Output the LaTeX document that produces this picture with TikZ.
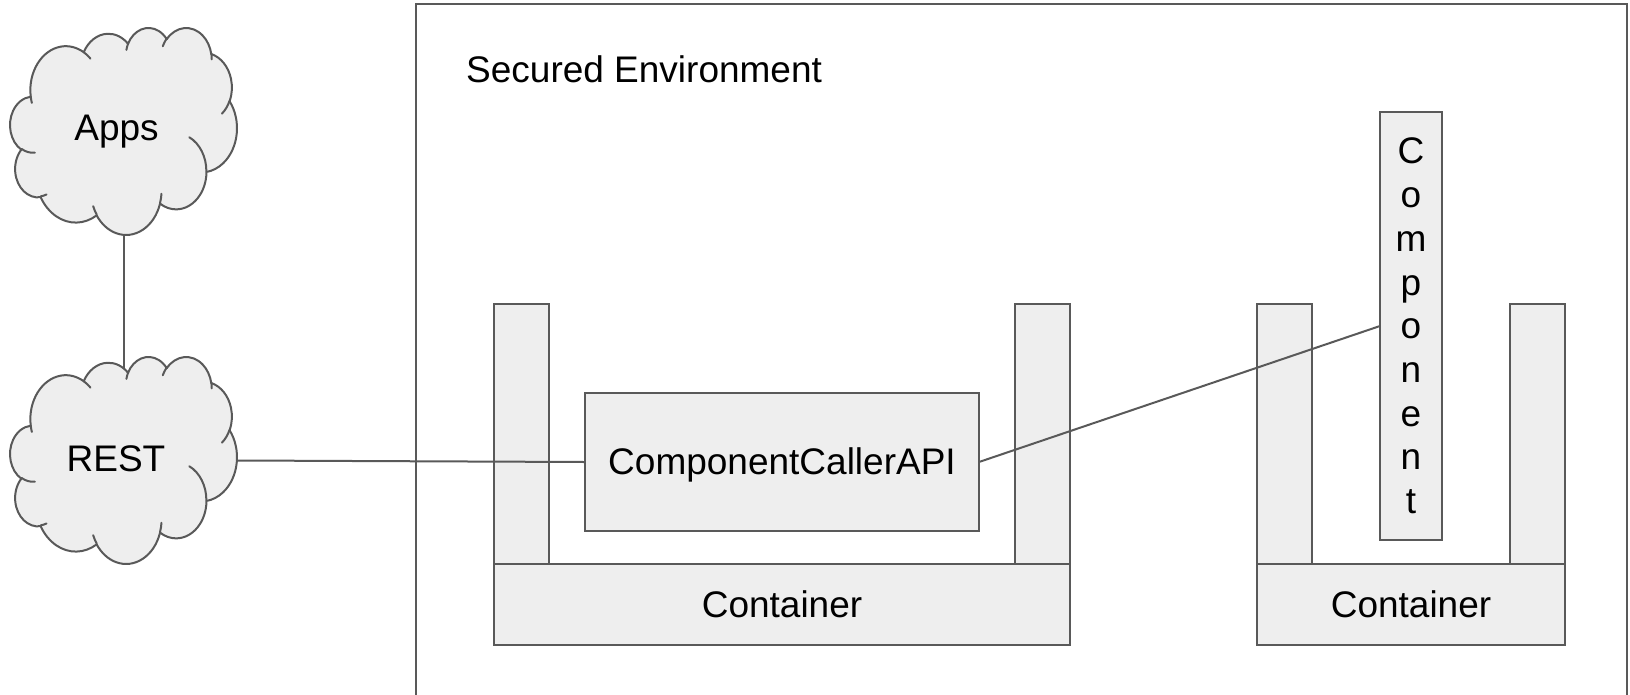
\documentclass[tikz,border=0pt]{standalone}
\usepackage{fontspec}
\setmainfont{Liberation Sans}
\pgfdeclarelayer{back}
\pgfdeclarelayer{lines}
\pgfsetlayers{back,lines,main}
\definecolor{edgegray}{HTML}{595959}
\definecolor{boxfill}{HTML}{EEEEEE}
\tikzset{
  shapebox/.style={draw=edgegray, fill=boxfill, line width=2pt, rectangle, inner sep=0pt, outer sep=0pt},
  lbl/.style={font=\fontsize{37}{43.7}\selectfont, text=black, inner sep=0pt, text height=33.5pt, text depth=7.8pt},
  conn/.style={draw=edgegray, line width=2pt},
  frameline/.style={draw=edgegray, line width=2pt},
  cloudline/.style={draw=edgegray, fill=boxfill, line width=2pt, line join=round},
  hookline/.style={draw=edgegray, line width=2pt, line cap=round},
}
\newcommand{\cloudat}[2]{%
\begin{scope}[shift={(#1,#2)}, x=0.5248pt, y=-0.479pt]
 \path[cloudline] (39.00,143.70)
   arc[start angle=-187.745, delta angle=128.10, x radius=67.53, y radius=91.90]
   arc[start angle=-152.02, delta angle=106.57, x radius=53.33, y radius=72.67]
   arc[start angle=-153.48, delta angle=116.15, x radius=43.65, y radius=59.45]
   arc[start angle=-139.72, delta angle=129.51, x radius=48.57, y radius=65.95]
   arc[start angle=-74.77, delta angle=97.98, x radius=53.33, y radius=72.73]
   arc[start angle=-37.52, delta angle=119.39, x radius=67.75, y radius=92.20]
   arc[start angle=0.4596, delta angle=121.53, x radius=57.85, y radius=78.67]
   arc[start angle=16.85, delta angle=129.37, x radius=67.52, y radius=92.15]
   arc[start angle=58.99, delta angle=91.21, x radius=77.20, y radius=105.43]
   arc[start angle=-276.69, delta angle=139.82, x radius=43.60, y radius=59.18]
   arc[start angle=-239.64, delta angle=143.75, x radius=43.45, y radius=59.45]
   -- cycle;
 \path[hookline] (46.93,261.77) arc[start angle=85.546, delta angle=34.81, x radius=43.45, y radius=59.45];
 \path[hookline] (69.28,348.99) arc[start angle=68.24, delta angle=15.06, x radius=43.60, y radius=59.18];
 \path[hookline] (164.78,390.90) arc[start angle=146.23, delta angle=12.24, x radius=67.52, y radius=92.15];
 \path[hookline] (288.27,347.51) arc[start angle=4.738, delta angle=12.11, x radius=67.52, y radius=92.15];
 \path[hookline] (341.29,229.54) arc[start angle=-64.03, delta angle=64.49, x radius=57.85, y radius=78.67];
 \path[hookline] (417.98,153.54) arc[start angle=23.21, delta angle=26.42, x radius=53.33, y radius=72.73];
 \path[hookline] (383.24,54.26) arc[start angle=-10.21, delta angle=11.03, x radius=48.57, y radius=65.95];
 \path[hookline] (290.78,39.52) arc[start angle=-156.29, delta angle=16.57, x radius=48.57, y radius=65.95];
 \path[hookline] (221.41,47.20) arc[start angle=-167.73, delta angle=14.25, x radius=43.65, y radius=59.45];
 \path[hookline] (140.00,51.92) arc[start angle=-59.64, delta angle=13.91, x radius=67.53, y radius=91.90];
 \path[hookline] (41.27,157.89) arc[start angle=163.19, delta angle=9.06, x radius=67.53, y radius=91.90];
\end{scope}}
\begin{document}
\begin{tikzpicture}[x=1pt, y=-1pt]
\useasboundingbox (0,0) rectangle (1630,694);

\begin{pgfonlayer}{back}
  \path[frameline] (416,710) -- (416,4) -- (1627,4) -- (1627,710);
  % container 1
  \node[shapebox, minimum width=55pt, minimum height=260pt] (p1a) at (521.5,434) {};
  \node[shapebox, minimum width=55pt, minimum height=260pt] (p1b) at (1042.5,434) {};
  \node[shapebox, lbl, minimum width=576pt, minimum height=81pt] (base1) at (782,604.5) {Container};
  % container 2
  \node[shapebox, minimum width=55pt, minimum height=260pt] (p2a) at (1284.5,434) {};
  \node[shapebox, minimum width=55pt, minimum height=260pt] (p2b) at (1537.5,434) {};
  \node[shapebox, lbl, minimum width=308pt, minimum height=81pt] (base2) at (1411,604.5) {Container};
\end{pgfonlayer}

\node[lbl, anchor=base west] (title) at (466,82) {Secured Environment};

\node[shapebox, lbl, minimum width=394pt, minimum height=138pt] (ccapi) at (782,462) {ComponentCallerAPI};
\node[shapebox, minimum width=62pt, minimum height=428pt, align=center,
      font=\fontsize{37}{43.7}\selectfont] (comp) at (1411,326) {C\\o\\m\\p\\o\\n\\e\\n\\t};

\coordinate (apps) at (123.5,131);
\coordinate (rest) at (123.5,460);
\cloudat{10.2}{27.3}
\node[lbl] (appslbl) at (116.5,128) {Apps};
\cloudat{10.2}{356.3}
\node[lbl] (restlbl) at (116,458.5) {REST};

\begin{pgfonlayer}{lines}
  \draw[conn] (apps) -- (rest);
  \draw[conn] (rest) -- (ccapi.west);
  \draw[conn] (ccapi.east) -- (comp.west);
\end{pgfonlayer}
\end{tikzpicture}
\end{document}
